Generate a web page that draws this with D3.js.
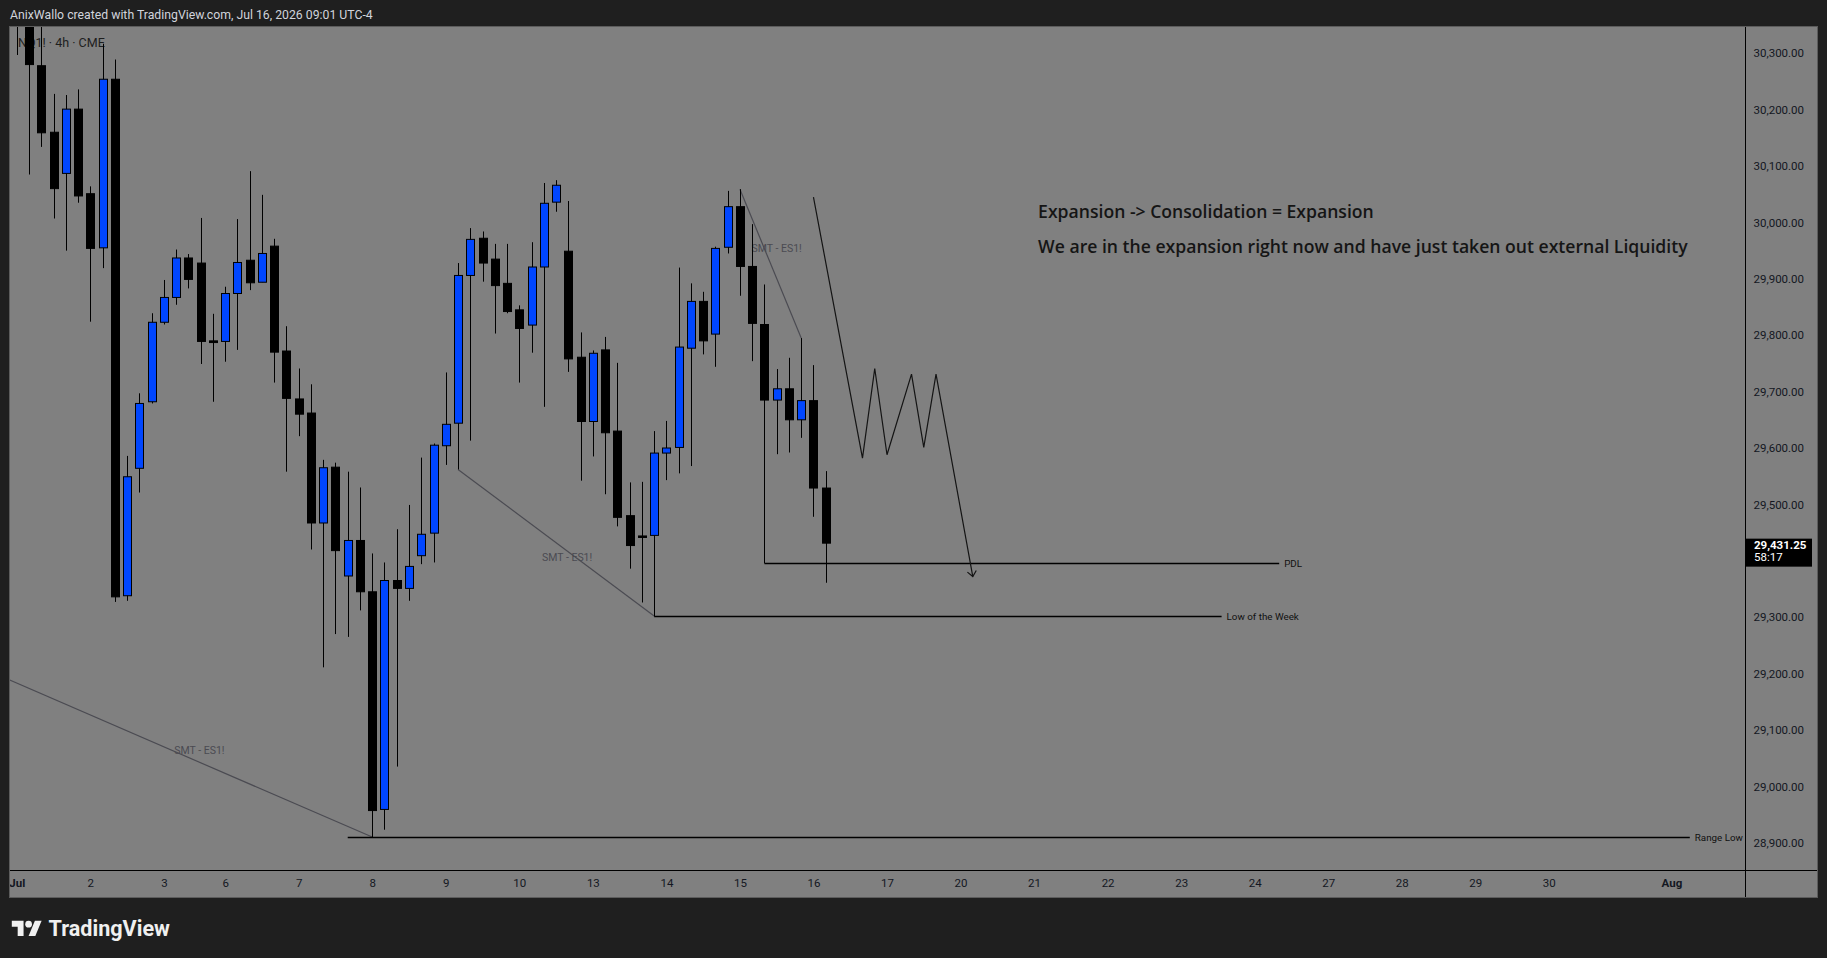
<!DOCTYPE html>
<html>
<head>
<meta charset="utf-8">
<script src="https://cdnjs.cloudflare.com/ajax/libs/d3/7.8.5/d3.min.js"></script>
<style>
html,body{margin:0;padding:0;background:#1f1f1f;overflow:hidden}
svg{display:block}
</style>
</head>
<body>
<svg id="chart" width="1827" height="958"></svg>
<script>
// ---------------- DATA ----------------
// NQ1! 4h candles, bar index 0 = first bar of Jul 1
const opens  = [30450,30390,30278,30160,30087,30201,30051,29955,30254,29338,
                29564,29682,29823,29867,29937,29928,29790,29789,29874,29933,
                29894,29958,29772,29687,29662,29467,29566,29373,29436,29345,
                28959,29365,29351,29409,29449,29604,29644,29906,29972,29935,
                29892,29845,29818,29921,30036,29949,29761,29647,29774,29630,
                29480,29444,29445,29591,29601,29777,29860,29802,29956,30028,
                29922,29819,29685,29705,29650,29684,29529];
const highs  = [30470,30420,30380,30228,30226,30236,30064,30317,30289,29586,
                29697,29839,29898,29952,29944,30008,29838,29886,30006,30091,
                30049,29971,29816,29741,29713,29579,29574,29558,29530,29413,
                29397,29456,29499,29583,29608,29734,29928,29990,29984,29962,
                29962,29853,29965,30070,30075,30038,29805,29773,29797,29751,
                29539,29540,29630,29648,29920,29892,29877,29957,30056,30059,
                29997,29890,29740,29760,29795,29747,29559];
const lows   = [30297,30085,30134,30007,29950,30035,29824,29919,29327,29329,
                29521,29679,29819,29854,29883,29749,29682,29753,29774,29880,
                29894,29716,29558,29621,29420,29211,29270,29265,29312,28910,
                28923,29035,29329,29394,29397,29570,29562,29613,29895,29803,
                29839,29716,29769,29673,30019,29735,29542,29585,29518,29461,
                29386,29326,29302,29543,29555,29568,29766,29744,29945,29870,
                29754,29395.6,29589,29592,29618,29478,29361];
const closes = [30390,30280,30159,30060,30201,30047,29954,30254,29336,29549,
                29679,29823,29867,29937,29899,29789,29787,29874,29929,29893,
                29945,29770,29688,29660,29467,29565,29418,29436,29345,28957,
                29365,29351,29390,29447,29605,29642,29906,29970,29928,29888,
                29842,29812,29921,30034,30066,29758,29647,29768,29627,29477,
                29427,29443,29591,29600,29779,29860,29790,29954,30028,29922,
                29821,29685,29705,29650,29684,29529,29431.25];

const lastPrice = 29431.25;
const countdown = "58:17";

// 29,400.00 is hidden behind the last-price label, as in the reference
const priceTicks = [28900,29000,29100,29200,29300,29500,29600,29700,29800,29900,30000,30100,30200,30300];
const dayLabels = ["Jul","2","3","6","7","8","9","10","13","14","15","16","17","20","21","22","23","24","27","28","29","30","Aug"];
const dayBars   = [0,6,12,17,23,29,35,41,47,53,59,65,71,77,83,89,95,101,107,113,119,125,135];

// SMT divergence lines: [barIndex, price] endpoints
const smtStart = [[-5,29230],[36,29562],[59,30059]];
const smtEnd   = [[29,28910],[52,29302],[64,29795]];
const smtLabelAt = [[14.9,29063],[44.9,29405],[62.0,29953]];
const smtText = "SMT - ES1!";

// Key levels
const levelNames  = ["PDL","Low of the Week","Range Low"];
const levelPrices = [29395.6,29302,28910];
const levelFrom   = [61,52,27];
const levelTo     = [103,98.3,136.5];

// Projected path (bar index, price)
const pathBars   = [65,69,70,71,73,74,75,78];
const pathPrices = [30045,29582,29741,29588,29731,29601,29731,29372];

const noteLines = ["Expansion -> Consolidation = Expansion",
                   "We are in the expansion right now and have just taken out external Liquidity"];
const noteAt = [[83.33,30021],[83.33,29959]];

const headerText = "AnixWallo created with TradingView.com, Jul 16, 2026 09:01 UTC-4";
const symbolText = "NQ1! · 4h · CME";

// ---------------- LAYOUT ----------------
const W = 1827, H = 958;
const panel = {l:10, t:27, r:1817, b:897};
const plot  = {l:10, t:27, r:1745.5, b:870.5};

const svg = d3.select("#chart");
svg.append("rect").attr("width",W).attr("height",H).attr("fill","#1f1f1f");

const x = d3.scaleLinear().domain([0,71]).range([16.8,887]);
const y = d3.scaleLinear().domain([28900,30300]).range([842.7,53.3]);
const fmt = d3.format(",.2f");

// header
svg.append("text").attr("x",10).attr("y",15).attr("dominant-baseline","central")
  .attr("font-family","Roboto, sans-serif").attr("font-size",12.25).attr("fill","#d1d4dc")
  .text(headerText);

// panel
svg.append("rect").attr("x",panel.l-0.5).attr("y",panel.t-0.5)
  .attr("width",panel.r-panel.l+1).attr("height",panel.b-panel.t+1)
  .attr("fill","#808080").attr("stroke","#5c5c5c").attr("stroke-width",1);

const defs = svg.append("defs");
defs.append("clipPath").attr("id","plotClip")
  .append("rect").attr("x",plot.l).attr("y",plot.t).attr("width",plot.r-plot.l).attr("height",plot.b-plot.t);
defs.append("clipPath").attr("id","xClip").append("rect")
  .attr("x",plot.l).attr("y",plot.b).attr("width",plot.r-plot.l).attr("height",panel.b-plot.b);

const g = svg.append("g").attr("clip-path","url(#plotClip)");

// symbol legend (under candles)
g.append("text").attr("x",18).attr("y",42).attr("dominant-baseline","central")
  .attr("font-family","Roboto, sans-serif").attr("font-size",12.5).attr("fill","#1e1e1e")
  .text(symbolText);

// SMT lines
smtStart.forEach((s,k)=>{
  const e = smtEnd[k];
  g.append("line").attr("x1",x(s[0])).attr("y1",y(s[1])).attr("x2",x(e[0])).attr("y2",y(e[1]))
    .attr("stroke","#4b4b52").attr("stroke-width",1.2);
});
smtLabelAt.forEach(a=>{
  g.append("text").attr("x",x(a[0])).attr("y",y(a[1])).attr("text-anchor","middle")
    .attr("dominant-baseline","central").attr("font-family","Roboto, sans-serif")
    .attr("font-size",10.5).attr("fill","#4b4b52").text(smtText);
});

// levels
levelNames.forEach((n,k)=>{
  const yy = Math.round(y(levelPrices[k]))+0.5;
  g.append("line").attr("x1",x(levelFrom[k])).attr("x2",x(levelTo[k]))
    .attr("y1",yy).attr("y2",yy).attr("stroke","#000").attr("stroke-width",1.3);
  g.append("text").attr("x",x(levelTo[k])+5).attr("y",yy).attr("dominant-baseline","central")
    .attr("font-family","Roboto, sans-serif").attr("font-size",9.8).attr("fill","#111").text(n);
});

// candles
const bw = 9;
opens.forEach((o,i)=>{
  const c = closes[i], cx = Math.round(x(i));
  const up = c > o;
  g.append("line").attr("x1",cx+0.5).attr("x2",cx+0.5)
    .attr("y1",y(highs[i])).attr("y2",y(lows[i])).attr("stroke","#000").attr("stroke-width",1);
  const top = y(Math.max(o,c)), bot = y(Math.min(o,c));
  g.append("rect").attr("x",cx-4+0.5).attr("y",top).attr("width",bw-1)
    .attr("height",Math.max(1.5,bot-top))
    .attr("fill",up ? "#0046ff" : "#000").attr("stroke","#000").attr("stroke-width",1);
});

// projected path
const pts = pathBars.map((b,k)=>[x(b),y(pathPrices[k])]);
g.append("path").attr("d",d3.line()(pts)).attr("fill","none")
  .attr("stroke","#141414").attr("stroke-width",1.2);
{
  const a = pts[pts.length-2], b = pts[pts.length-1];
  const ang = Math.atan2(b[1]-a[1], b[0]-a[0]);
  const L = 7, sp = 0.7;
  const p1 = [b[0]-L*Math.cos(ang-sp), b[1]-L*Math.sin(ang-sp)];
  const p2 = [b[0]-L*Math.cos(ang+sp), b[1]-L*Math.sin(ang+sp)];
  g.append("path").attr("d",d3.line()([p1,b,p2])).attr("fill","none")
    .attr("stroke","#141414").attr("stroke-width",1.2);
}

// notes
noteLines.forEach((t,k)=>{
  g.append("text").attr("x",x(noteAt[k][0])).attr("y",y(noteAt[k][1]))
    .attr("dominant-baseline","central").attr("font-family","'Open Sans', sans-serif")
    .attr("font-weight",600).attr("font-size",17.6).attr("fill","#151515").text(t);
});

// axes separators
svg.append("line").attr("x1",plot.r).attr("x2",plot.r).attr("y1",panel.t).attr("y2",panel.b)
  .attr("stroke","#000").attr("stroke-width",1);
svg.append("line").attr("x1",panel.l).attr("x2",panel.r).attr("y1",plot.b).attr("y2",plot.b)
  .attr("stroke","#000").attr("stroke-width",1);

// price axis
const yAxis = d3.axisRight(y).tickValues(priceTicks).tickFormat(fmt).tickSize(0).tickPadding(8);
const ya = svg.append("g").attr("transform",`translate(${plot.r},0)`).call(yAxis);
ya.select(".domain").remove();
ya.selectAll("text").attr("font-family","Roboto, sans-serif").attr("font-size",11.5).attr("fill","#131722");

// time axis
const xAxis = d3.axisBottom(x).tickValues(dayBars).tickFormat((d,k)=>dayLabels[k]).tickSize(0).tickPadding(8);
const xg = svg.append("g").attr("clip-path","url(#xClip)");
const xa = xg.append("g").attr("transform",`translate(0,${plot.b})`).call(xAxis);
xa.select(".domain").remove();
xa.selectAll("text").attr("font-family","Roboto, sans-serif").attr("font-size",11.5).attr("fill","#131722")
  .attr("font-weight",(d,k)=> (dayLabels[k]==="Jul"||dayLabels[k]==="Aug") ? 700 : 400);

// last price label
{
  const yy = y(lastPrice);
  svg.append("rect").attr("x",plot.r+0.5).attr("y",yy-4.5).attr("width",66).attr("height",28).attr("fill","#000");
  svg.append("text").attr("x",plot.r+8.5).attr("y",yy+1.5).attr("dominant-baseline","central")
    .attr("font-family","Roboto, sans-serif").attr("font-size",11.5).attr("font-weight",700)
    .attr("fill","#fff").text(fmt(lastPrice));
  svg.append("text").attr("x",plot.r+8.5).attr("y",yy+14).attr("dominant-baseline","central")
    .attr("font-family","Roboto, sans-serif").attr("font-size",11.5)
    .attr("fill","#fff").text(countdown);
}

// footer logo
{
  const lg = svg.append("g").attr("transform","translate(11.8,917.5) scale(0.84)").attr("fill","#f0f0f0");
  lg.append("path").attr("d","M14 22H7V11H0V4h14v18z");
  lg.append("circle").attr("cx",20).attr("cy",8).attr("r",4);
  lg.append("path").attr("d","M28 22h-8l7.5-18h8L28 22z");
  svg.append("text").attr("x",48.5).attr("y",928.5).attr("dominant-baseline","central")
    .attr("font-family","Roboto, sans-serif").attr("font-weight",700).attr("font-size",21.6)
    .attr("fill","#f0f0f0").text("TradingView");
}
</script>
</body>
</html>
